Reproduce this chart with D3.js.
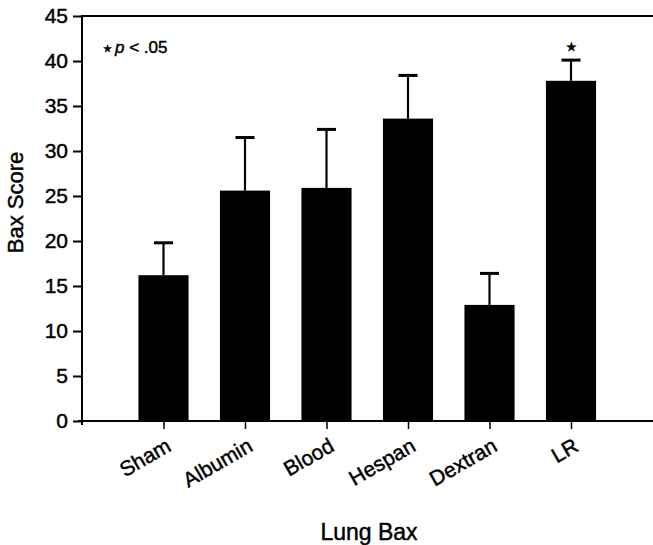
<!DOCTYPE html>
<html>
<head>
<meta charset="utf-8">
<script src="https://cdn.jsdelivr.net/npm/d3@7"></script>
<style>
  html, body { margin: 0; padding: 0; background: #fff; }
  svg { display: block; }
  text { font-family: "Liberation Sans", Arial, Helvetica, sans-serif; fill: #000; stroke: #000; stroke-width: 0.45px; }
</style>
</head>
<body>
<svg id="chart" width="653" height="545"></svg>
<script>
// ---- Data ----
const categories = ["Sham", "Albumin", "Blood", "Hespan", "Dextran", "LR"];
const means      = [16.2, 25.6, 25.9, 33.6, 12.9, 37.8];
const errorTops  = [19.8, 31.5, 32.4, 38.4, 16.4, 40.1];
const significant = [false, false, false, false, false, true];
const yTicks = [0, 5, 10, 15, 20, 25, 30, 35, 40, 45];
const yLabel = "Bax Score";
const xLabel = "Lung Bax";
const noteText = "p < .05";

// ---- Layout ----
const svg = d3.select("#chart");
const mLeft = 82, mRight = 652.5, mTop = 16, mBottom = 421;

const x = d3.scalePoint().domain(categories).range([mLeft, mRight]).padding(1);
const y = d3.scaleLinear().domain([0, 45]).range([mBottom, mTop]);
const barW = x.step() * 0.615;
const capW = 19;

// Bars
svg.append("g").selectAll("rect")
  .data(categories)
  .join("rect")
  .attr("x", d => x(d) - barW / 2)
  .attr("y", (d, i) => y(means[i]))
  .attr("width", barW)
  .attr("height", (d, i) => y(0) - y(means[i]))
  .attr("fill", "#000");

// Error bars
const eb = svg.append("g").attr("stroke", "#000");
categories.forEach((c, i) => {
  eb.append("line")
    .attr("x1", x(c)).attr("x2", x(c))
    .attr("y1", y(means[i])).attr("y2", y(errorTops[i]))
    .attr("stroke-width", 2.2);
  eb.append("line")
    .attr("x1", x(c) - capW / 2).attr("x2", x(c) + capW / 2)
    .attr("y1", y(errorTops[i])).attr("y2", y(errorTops[i]))
    .attr("stroke-width", 3);
  if (significant[i]) {
    svg.append("text")
      .attr("x", x(c)).attr("y", y(errorTops[i]) - 9)
      .attr("text-anchor", "middle")
      .attr("font-size", 12)
      .attr("font-family", "DejaVu Sans")
      .text("★");
  }
});

// Y axis
const yAxis = d3.axisLeft(y).tickValues(yTicks).tickSize(9).tickPadding(5);
const gy = svg.append("g").attr("transform", `translate(${mLeft},0)`).call(yAxis);
gy.select(".domain").remove();
gy.selectAll(".tick line").attr("stroke", "#000").attr("stroke-width", 2);
gy.selectAll(".tick text").attr("font-size", 21).attr("font-family", "Liberation Sans, Arial, sans-serif");
svg.append("line").attr("x1", mLeft).attr("x2", mLeft).attr("y1", mTop - 1).attr("y2", mBottom + 4)
  .attr("stroke", "#000").attr("stroke-width", 2);

// X axis
const xAxis = d3.axisBottom(x).tickSize(8).tickFormat("");
const gx = svg.append("g").attr("transform", `translate(0,${mBottom})`).call(xAxis);
gx.select(".domain").remove();
gx.selectAll(".tick line").attr("stroke", "#000").attr("stroke-width", 1.5);
svg.append("line").attr("x1", mLeft - 4).attr("x2", 653).attr("y1", mBottom).attr("y2", mBottom)
  .attr("stroke", "#000").attr("stroke-width", 2);
// top frame line
svg.append("line").attr("x1", mLeft).attr("x2", 653).attr("y1", mTop).attr("y2", mTop)
  .attr("stroke", "#000").attr("stroke-width", 2);

// X category labels (rotated)
svg.append("g").selectAll("text")
  .data(categories)
  .join("text")
  .attr("transform", d => `translate(${x(d) + 9},${mBottom + 29}) rotate(-30)`)
  .attr("text-anchor", "end")
  .attr("font-size", 21)
  .text(d => d);

// Axis titles
svg.append("text")
  .attr("transform", `translate(23,${(mTop + mBottom) / 2 - 16}) rotate(-90)`)
  .attr("text-anchor", "middle")
  .attr("font-size", 22)
  .text(yLabel);
svg.append("text")
  .attr("x", 369).attr("y", 540)
  .attr("text-anchor", "middle")
  .attr("font-size", 23)
  .text(xLabel);

// Significance note
svg.append("text").attr("x", 107).attr("y", 52)
  .attr("text-anchor", "middle").attr("font-size", 10)
  .attr("font-family", "DejaVu Sans").text("★");
const note = svg.append("text").attr("x", 115).attr("y", 53).attr("font-size", 17);
note.append("tspan").attr("font-style", "italic").text("p");
note.append("tspan").text(noteText.slice(1));
</script>
</body>
</html>
